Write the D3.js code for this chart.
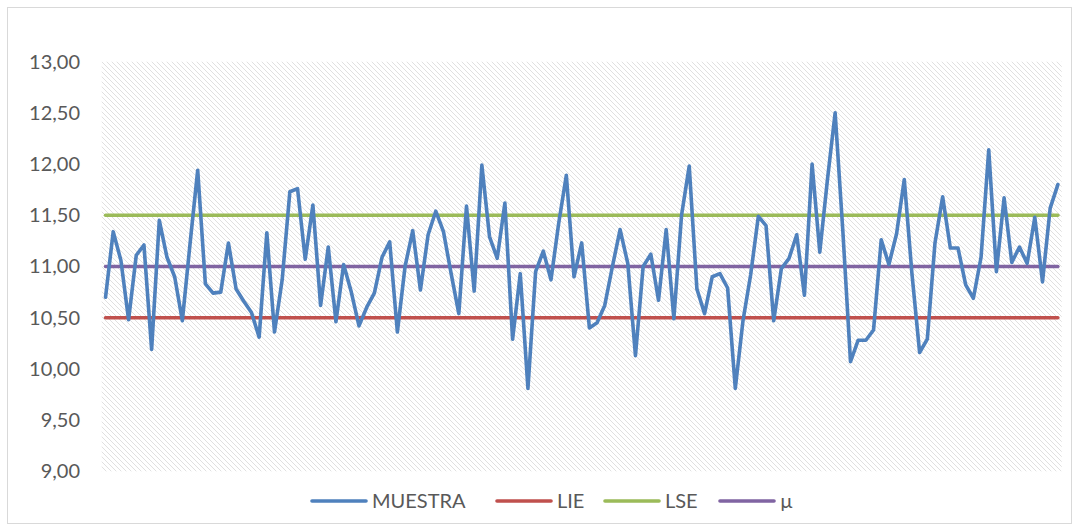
<!DOCTYPE html>
<html><head><meta charset="utf-8">
<script src="https://cdn.jsdelivr.net/npm/d3@7"></script>
<style>body{margin:0;background:#fff;} svg{display:block;}</style>
</head><body>
<svg id="chart" width="1079" height="531"></svg>
<script>
const muestra = [10.70,11.34,11.06,10.48,11.11,11.21,10.19,11.45,11.09,10.90,
10.47,11.22,11.94,10.83,10.74,10.75,11.23,10.78,10.66,10.55,
10.31,11.33,10.36,10.87,11.73,11.76,11.07,11.60,10.62,11.19,
10.46,11.02,10.75,10.42,10.60,10.74,11.09,11.24,10.36,11.00,
11.35,10.77,11.31,11.54,11.34,10.93,10.54,11.59,10.76,11.99,
11.29,11.08,11.62,10.29,10.93,9.81,10.95,11.15,10.87,11.42,
11.89,10.90,11.23,10.40,10.45,10.62,11.00,11.36,11.03,10.13,
11.00,11.12,10.67,11.36,10.49,11.50,11.98,10.78,10.54,10.90,
10.93,10.79,9.81,10.47,10.92,11.49,11.40,10.47,10.98,11.08,
11.31,10.72,12.00,11.14,11.85,12.50,11.35,10.07,10.28,10.28,
10.38,11.26,11.02,11.32,11.85,10.93,10.16,10.29,11.23,11.68,
11.18,11.18,10.82,10.69,11.09,12.14,10.95,11.67,11.04,11.19,
11.03,11.48,10.85,11.57,11.80];
const categories = muestra.map((d,i)=>i+1);
const LIE = 10.5, LSE = 11.5, MU = 11.0;
const yTicks = [9,9.5,10,10.5,11,11.5,12,12.5,13];
const seriesNames = ["MUESTRA","LIE","LSE","\u00b5"];
const colors = ["#4f81bd","#c0504d","#9bbb59","#8064a2"];

const svg = d3.select("#chart");
const font = "Lato, 'Open Sans', sans-serif";

svg.append("rect").attr("x",7.5).attr("y",7.5).attr("width",1064).attr("height",516)
  .attr("fill","#fff").attr("stroke","#d9d9d9").attr("stroke-width",1);

const pLeft=101.7, pRight=1061.7, pTop=61.7, pBottom=471.3;
const x = d3.scalePoint().domain(categories).range([pLeft,pRight]).padding(0.5);
const y = d3.scaleLinear().domain([9,13]).range([pBottom,pTop]);

const defs = svg.append("defs");
const pat = defs.append("pattern").attr("id","hatch").attr("patternUnits","userSpaceOnUse")
  .attr("width",5).attr("height",5);
pat.append("rect").attr("width",5).attr("height",5).attr("fill","#fff");
pat.append("path").attr("d","M0,0 L5,5 M-1,4 L1,6 M4,-1 L6,1")
  .attr("stroke","#e0e0e0").attr("stroke-width",1);

svg.append("rect").attr("x",pLeft).attr("y",pTop).attr("width",pRight-pLeft).attr("height",pBottom-pTop)
  .attr("fill","url(#hatch)");

const yAxis = d3.axisLeft(y).tickValues(yTicks).tickSize(0).tickPadding(0)
  .tickFormat(d=>d3.format(".2f")(d).replace(".",","));
const gy = svg.append("g").attr("transform",`translate(80,0)`).call(yAxis);
gy.select(".domain").remove();
gy.selectAll("text").attr("font-family",font).attr("font-size",20).attr("fill","#595959");

const line = d3.line().x((d,i)=>x(categories[i])).y(d=>y(d));
const consts = [LIE,LSE,MU];
consts.forEach((v,k)=>{
  svg.append("path").datum(categories.map(()=>v)).attr("d",line)
    .attr("fill","none").attr("stroke",colors[k+1]).attr("stroke-width",3.6).attr("stroke-linecap","round");
});
svg.append("path").datum(muestra).attr("d",line).attr("fill","none")
  .attr("stroke",colors[0]).attr("stroke-width",3.6).attr("stroke-linejoin","round").attr("stroke-linecap","round");

const legX = [312,497,605,720];
const lg = svg.append("g");
seriesNames.forEach((n,i)=>{
  lg.append("line").attr("x1",legX[i]).attr("x2",legX[i]+54).attr("y1",501).attr("y2",501)
    .attr("stroke",colors[i]).attr("stroke-width",3.6).attr("stroke-linecap","round");
  lg.append("text").attr("x",legX[i]+60).attr("y",508).text(n)
    .attr("font-family",font).attr("font-size",20).attr("fill","#595959");
});
</script>
</body></html>
